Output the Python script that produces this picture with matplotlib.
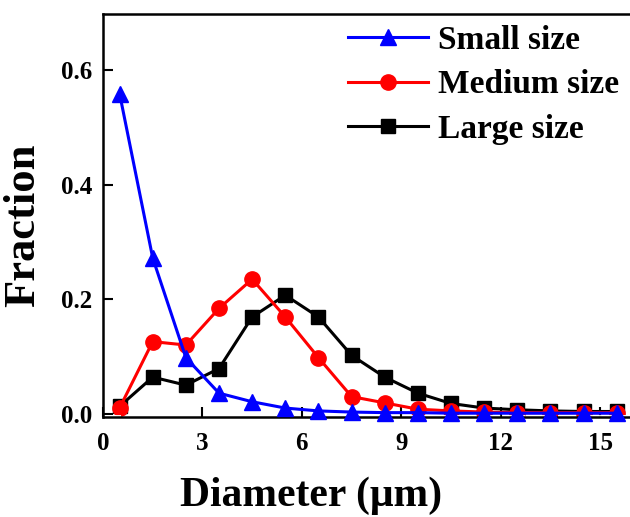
import numpy as np
import matplotlib
matplotlib.use('Agg')
import matplotlib.pyplot as plt

### DATA ###
diameter = [0.5, 1.5, 2.5, 3.5, 4.5, 5.5, 6.5, 7.5, 8.5, 9.5, 10.5, 11.5, 12.5, 13.5, 14.5, 15.5]
small  = [0.559, 0.272, 0.098, 0.036, 0.021, 0.010, 0.005, 0.003, 0.002, 0.002, 0.001, 0.001, 0.001, 0.001, 0.001, 0.001]
medium = [0.010, 0.126, 0.120, 0.184, 0.235, 0.169, 0.098, 0.030, 0.019, 0.008, 0.005, 0.003, 0.002, 0.002, 0.002, 0.002]
large  = [0.013, 0.064, 0.050, 0.079, 0.169, 0.207, 0.169, 0.102, 0.064, 0.036, 0.018, 0.010, 0.007, 0.005, 0.004, 0.004]

xticks = [0, 3, 6, 9, 12, 15]
yticks = [0.0, 0.2, 0.4, 0.6]

plt.rcParams['font.family'] = ['Liberation Serif', 'DejaVu Serif']
plt.rcParams['font.weight'] = 'bold'

fig = plt.figure(figsize=[6.3, 5.17], dpi=100)
ax = fig.add_axes([0.1635, 0.193, 0.8365, 0.78])

l3, = ax.plot(diameter, large, '-s', color='black', lw=2.2, ms=9.5, label='Large size', clip_on=False, zorder=2)
l2, = ax.plot(diameter, medium, '-o', color='red', lw=2.2, ms=11, label='Medium size', clip_on=False, zorder=2.2)
# faint white dashed baseline seen just above the x axis in the original
ax.axhline(-0.003, color='white', lw=1.3, ls=(0, (10, 4)), zorder=2.5)
l1, = ax.plot(diameter, small, '-^', color='blue', lw=2.2, ms=11, label='Small size', clip_on=False, zorder=3)

ax.set_xlim(0, 15.9)
ax.set_ylim(-0.006, 0.698)
ax.set_xticks(xticks)
ax.set_yticks(yticks)
ax.set_yticklabels(['%.1f' % v for v in yticks])
ax.tick_params(direction='in', length=7, width=1.5, labelsize=18)
ax.tick_params(axis='x', pad=11)
ax.tick_params(axis='y', pad=8)
for lab in ax.get_xticklabels() + ax.get_yticklabels():
    lab.set_fontweight('bold')

for s in ['left', 'bottom', 'top']:
    ax.spines[s].set_linewidth(1.8)
ax.spines['right'].set_visible(False)

ax.set_xlabel('Diameter (\u03bcm)', fontsize=30, fontweight='bold')
ax.set_ylabel('Fraction', fontsize=32, fontweight='bold')
ax.xaxis.set_label_coords(0.395, -0.148)
ax.yaxis.set_label_coords(-0.113, 0.475)

ax.legend(handles=[l1, l2, l3], loc='upper right', frameon=False,
          prop={'size': 24, 'weight': 'bold'}, handlelength=2.4, handletextpad=0.3,
          labelspacing=0.4, numpoints=1, bbox_to_anchor=(1.018, 1.022), borderaxespad=0.2)

fig.savefig('out.png', dpi=100)
